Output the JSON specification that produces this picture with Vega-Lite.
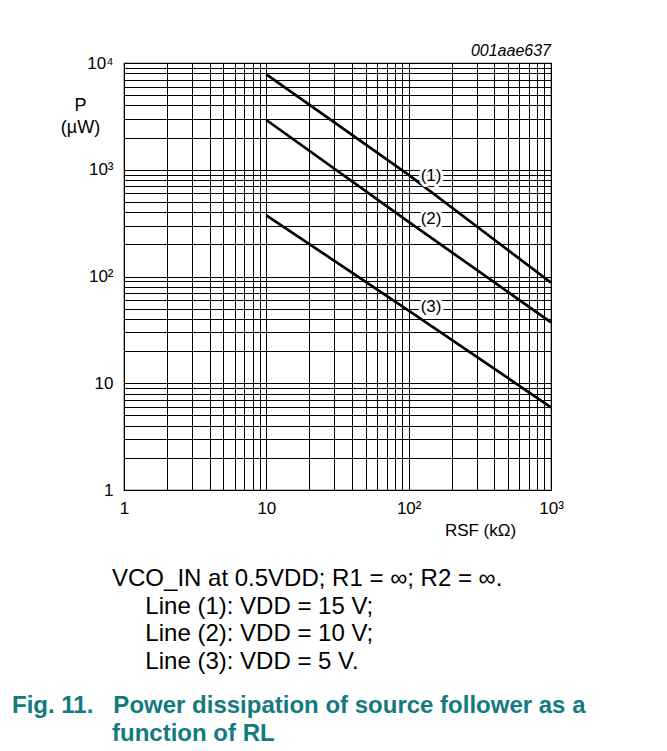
{
  "$schema": "https://vega.github.io/schema/vega-lite/v6.json",
  "width": 427,
  "height": 427,
  "autosize": {"type": "none"},
  "padding": {"left": 124, "top": 63, "right": 116, "bottom": 261},
  "background": "white",
  "config": {
    "font": "Liberation Sans",
    "view": {"stroke": "#000", "strokeWidth": 1.2},
    "axis": {
      "grid": true,
      "gridColor": "#000",
      "gridOpacity": 1,
      "gridWidth": 1,
      "domain": false,
      "ticks": false,
      "labelFont": "Liberation Sans",
      "labelFontSize": 17,
      "labelColor": "#000",
      "labelOverlap": false,
      "labelFlush": false,
      "titleFont": "Liberation Sans",
      "titleFontWeight": "normal",
      "titleColor": "#000"
    }
  },
  "title": {
    "text": [
      "\u200b\u00a0\u00a0\u00a0\u00a0\u00a0\u00a0\u00a0\u00a0\u00a0\u00a0\u00a0\u00a0\u00a0\u00a0\u00a0VCO_IN at 0.5VDD; R1 = ∞; R2 = ∞.",
      "\u200b\u00a0\u00a0\u00a0\u00a0\u00a0\u00a0\u00a0\u00a0\u00a0\u00a0\u00a0\u00a0\u00a0\u00a0\u00a0\u00a0\u00a0\u00a0\u00a0\u00a0Line (1): VDD = 15 V;",
      "\u200b\u00a0\u00a0\u00a0\u00a0\u00a0\u00a0\u00a0\u00a0\u00a0\u00a0\u00a0\u00a0\u00a0\u00a0\u00a0\u00a0\u00a0\u00a0\u00a0\u00a0Line (2): VDD = 10 V;",
      "\u200b\u00a0\u00a0\u00a0\u00a0\u00a0\u00a0\u00a0\u00a0\u00a0\u00a0\u00a0\u00a0\u00a0\u00a0\u00a0\u00a0\u00a0\u00a0\u00a0\u00a0Line (3): VDD = 5 V."
    ],
    "subtitle": [
      "Fig. 11.\u00a0\u00a0\u00a0Power dissipation of source follower as a",
      "\u200b\u00a0\u00a0\u00a0\u00a0\u00a0\u00a0\u00a0\u00a0\u00a0\u00a0\u00a0\u00a0\u00a0\u00a0\u00a0function of RL"
    ],
    "orient": "bottom",
    "anchor": "start",
    "frame": "group",
    "dx": -112,
    "offset": 29,
    "font": "Liberation Sans",
    "fontSize": 24,
    "fontWeight": "normal",
    "color": "#000",
    "lineHeight": 27.5,
    "subtitleFont": "Liberation Sans",
    "subtitleFontSize": 24,
    "subtitleFontWeight": "bold",
    "subtitleColor": "#137a7f",
    "subtitleLineHeight": 28,
    "subtitlePadding": 20
  },
  "datasets": {
    "lines": [
      {"line": "1", "R": 10, "P": 7840},
      {"line": "1", "R": 100, "P": 895},
      {"line": "1", "R": 1000, "P": 87.5},
      {"line": "2", "R": 10, "P": 2925},
      {"line": "2", "R": 100, "P": 325},
      {"line": "2", "R": 1000, "P": 37.2},
      {"line": "3", "R": 10, "P": 374},
      {"line": "3", "R": 100, "P": 48},
      {"line": "3", "R": 1000, "P": 5.95}
    ],
    "labels": [
      {"label": "(1)", "R": 143.7, "P": 880},
      {"label": "(2)", "R": 143.7, "P": 343},
      {"label": "(3)", "R": 143.7, "P": 52.2}
    ],
    "note": [
      {"text": "001aae637", "R": 1000, "P": 10000}
    ]
  },
  "layer": [
    {
      "data": {"name": "lines"},
      "mark": {"type": "line", "color": "#000", "strokeWidth": 2.7},
      "encoding": {
        "x": {
          "field": "R",
          "type": "quantitative",
          "scale": {"type": "log", "domain": [1, 1000], "nice": false},
          "axis": {
            "values": [1,2,3,4,5,6,7,8,9,10,20,30,40,50,60,70,80,90,100,200,300,400,500,600,700,800,900,1000],
            "labelExpr": "datum.value == 1 ? '1' : datum.value == 10 ? '10' : datum.value == 100 ? '10²' : datum.value == 1000 ? '10³' : ''",
            "labelPadding": 10,
            "title": "RSF (kΩ)",
            "titleFontSize": 17,
            "titleX": 356,
            "titleY": 45,
            "titleAlign": "center",
            "titleBaseline": "alphabetic"
          }
        },
        "y": {
          "field": "P",
          "type": "quantitative",
          "scale": {"type": "log", "domain": [1, 10000], "nice": false},
          "axis": {
            "values": [1,2,3,4,5,6,7,8,9,10,20,30,40,50,60,70,80,90,100,200,300,400,500,600,700,800,900,1000,2000,3000,4000,5000,6000,7000,8000,9000,10000],
            "labelExpr": "datum.value == 1 ? '1' : datum.value == 10 ? '10' : datum.value == 100 ? '10²' : datum.value == 1000 ? '10³' : datum.value == 10000 ? '10⁴' : ''",
            "labelPadding": 11,
            "title": ["P", "(µW)"],
            "titleFontSize": 18,
            "titleLineHeight": 22,
            "titleAngle": 0,
            "titleX": -44,
            "titleY": 47,
            "titleAlign": "center",
            "titleBaseline": "alphabetic"
          }
        },
        "detail": {"field": "line"}
      }
    },
    {
      "data": {"name": "labels"},
      "mark": {"type": "text", "fontSize": 17, "fill": "white", "stroke": "white", "strokeWidth": 6, "strokeJoin": "round"},
      "encoding": {
        "x": {"field": "R", "type": "quantitative"},
        "y": {"field": "P", "type": "quantitative"},
        "text": {"field": "label"}
      }
    },
    {
      "data": {"name": "labels"},
      "mark": {"type": "text", "fontSize": 17, "color": "#000"},
      "encoding": {
        "x": {"field": "R", "type": "quantitative"},
        "y": {"field": "P", "type": "quantitative"},
        "text": {"field": "label"}
      }
    },
    {
      "data": {"name": "note"},
      "mark": {"type": "text", "fontSize": 16, "fontStyle": "italic", "align": "right", "baseline": "alphabetic", "dy": -7, "color": "#000"},
      "encoding": {
        "x": {"field": "R", "type": "quantitative"},
        "y": {"field": "P", "type": "quantitative"},
        "text": {"field": "text"}
      }
    }
  ]
}
